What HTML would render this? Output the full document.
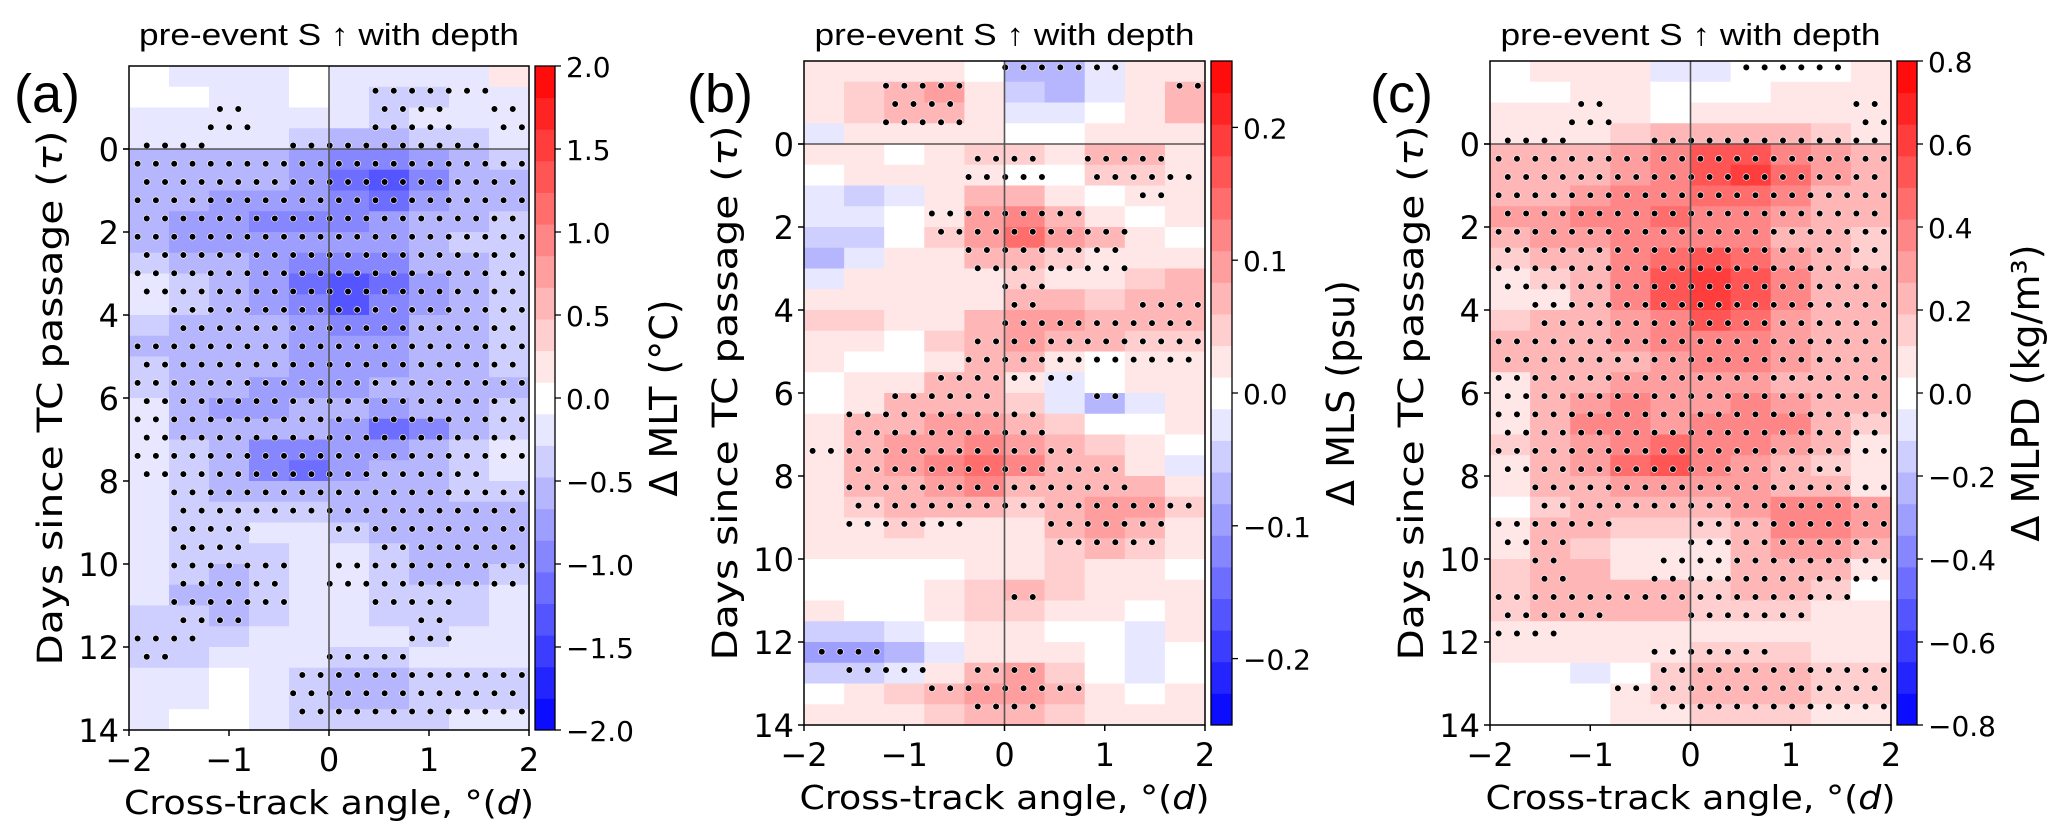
<!DOCTYPE html>
<html><head><meta charset="utf-8">
<style>
html,body{margin:0;padding:0;background:#fff;}
svg{display:block;}
text{font-family:"DejaVu Sans","Liberation Sans",sans-serif;fill:#000;}
.ttl{font-family:"Liberation Sans",sans-serif;}
</style></head>
<body>
<svg id="fig" width="2067" height="838" viewBox="0 0 2067 838" xmlns="http://www.w3.org/2000/svg"></svg>
<script>
// ---- data: rows are day bins of 0.5 from -2 to 14, cols are 0.4° bins from -2 to 2
const xTicks = [-2, -1, 0, 1, 2];
const yTicks = [0, 2, 4, 6, 8, 10, 12, 14];
const aCbTicks = [2.0, 1.5, 1.0, 0.5, 0.0, -0.5, -1.0, -1.5, -2.0];
const bCbTicks = [0.2, 0.1, 0.0, -0.1, -0.2];
const cCbTicks = [0.8, 0.6, 0.4, 0.2, 0.0, -0.2, -0.4, -0.6, -0.8];
const aCbLabels = ["2.0","1.5","1.0","0.5","0.0","\u22120.5","\u22121.0","\u22121.5","\u22122.0"];
const bCbLabels = ["0.2","0.1","0.0","\u22120.1","\u22120.2"];
const cCbLabels = ["0.8","0.6","0.4","0.2","0.0","\u22120.2","\u22120.4","\u22120.6","\u22120.8"];

const aVals = [
[0,-0.1,-0.2,-0.1,0,-0.2,-0.2,-0.2,-0.2,0.1],
[0,0,-0.2,-0.2,0,-0.2,-0.4,-0.3,-0.2,-0.2],
[-0.1,-0.1,-0.2,-0.2,-0.1,-0.2,-0.3,-0.2,-0.2,-0.2],
[-0.2,-0.2,-0.2,-0.2,-0.4,-0.6,-0.5,-0.4,-0.3,-0.2],
[-0.5,-0.5,-0.5,-0.6,-0.8,-1.0,-1.0,-0.8,-0.5,-0.4],
[-0.5,-0.6,-0.6,-0.6,-0.8,-1.1,-1.4,-1.0,-0.6,-0.5],
[-0.5,-0.6,-0.7,-0.8,-0.8,-1.0,-1.1,-0.8,-0.6,-0.6],
[-0.6,-0.7,-0.8,-0.9,-0.9,-0.9,-0.8,-0.6,-0.5,-0.4],
[-0.6,-0.7,-0.7,-0.8,-0.8,-0.8,-0.7,-0.6,-0.4,-0.4],
[-0.4,-0.5,-0.6,-0.8,-0.9,-1.0,-0.9,-0.6,-0.5,-0.4],
[-0.2,-0.4,-0.6,-0.8,-1.1,-1.3,-1.1,-0.7,-0.5,-0.4],
[-0.2,-0.3,-0.6,-0.8,-1.0,-1.3,-1.0,-0.7,-0.5,-0.4],
[-0.4,-0.5,-0.6,-0.6,-0.8,-1.0,-0.9,-0.6,-0.5,-0.4],
[-0.5,-0.5,-0.5,-0.6,-0.7,-0.8,-0.8,-0.6,-0.5,-0.4],
[-0.4,-0.5,-0.5,-0.6,-0.7,-0.8,-0.8,-0.6,-0.5,-0.4],
[-0.3,-0.5,-0.6,-0.7,-0.7,-0.7,-0.6,-0.6,-0.5,-0.5],
[-0.2,-0.5,-0.7,-0.7,-0.6,-0.6,-0.7,-0.6,-0.5,-0.4],
[-0.2,-0.5,-0.6,-0.5,-0.6,-0.8,-1.1,-0.9,-0.5,-0.3],
[-0.2,-0.4,-0.6,-0.9,-0.9,-0.8,-0.8,-0.6,-0.4,-0.2],
[-0.2,-0.3,-0.6,-1.0,-1.2,-0.8,-0.6,-0.5,-0.3,-0.2],
[-0.2,-0.3,-0.5,-0.6,-0.6,-0.6,-0.6,-0.5,-0.4,-0.3],
[-0.1,-0.3,-0.4,-0.4,-0.4,-0.5,-0.6,-0.6,-0.6,-0.5],
[-0.1,-0.4,-0.4,-0.2,-0.2,-0.3,-0.5,-0.6,-0.6,-0.6],
[-0.1,-0.4,-0.4,-0.3,-0.2,-0.2,-0.4,-0.6,-0.6,-0.5],
[-0.2,-0.4,-0.5,-0.4,-0.2,-0.2,-0.3,-0.5,-0.5,-0.4],
[-0.2,-0.5,-0.6,-0.4,-0.2,-0.2,-0.4,-0.4,-0.4,-0.2],
[-0.3,-0.4,-0.5,-0.3,-0.2,-0.2,-0.3,-0.4,-0.3,-0.2],
[-0.3,-0.4,-0.3,-0.2,-0.2,-0.2,-0.2,-0.3,-0.2,-0.1],
[-0.3,-0.3,-0.2,-0.1,-0.2,-0.3,-0.3,-0.2,-0.1,-0.1],
[-0.2,-0.1,0,-0.1,-0.3,-0.5,-0.5,-0.4,-0.4,-0.4],
[-0.2,-0.1,0,-0.1,-0.3,-0.5,-0.5,-0.4,-0.4,-0.4],
[-0.1,0,0.05,-0.1,-0.3,-0.4,-0.4,-0.3,-0.2,-0.2]
];
const aSig = [
"0000000000","0000001110","0010001101","1100111110",
"1111111111","1111111111","1111111111","1111111111",
"1111111111","1111111111","1111111111","0111111111",
"0111111111","1111111111","1111111111","1111111111",
"1111111111","1111111111","1111111111","1111111110",
"0111111111","0111111111","0110011111","0110001111",
"0111011111","0111001100","0110000100","1100000100",
"1000011000","0000111111","0000111111","0000111111"
];

const bVals = [
[0.02,0.03,0.03,0.03,0,-0.08,-0.06,-0.02,0.02,0.03],
[0.03,0.04,0.08,0.1,0.02,-0.05,-0.08,-0.02,0.03,0.06],
[0.02,0.04,0.08,0.08,0.02,-0.02,-0.03,0,0.03,0.06],
[-0.02,0.02,0.03,0.03,0.02,0,0,0.02,0.02,0.03],
[0.02,0.02,0,0.03,0.05,0.05,0.02,0.06,0.08,0.02],
[0,0.02,0.02,0.03,0.03,0,0.01,0.04,0.05,0.02],
[-0.02,-0.04,-0.02,0.03,0.08,0.06,0.02,0,0.02,0.02],
[-0.03,-0.03,0,0.03,0.1,0.12,0.08,0.03,0.01,0.02],
[-0.05,-0.04,0.01,0.04,0.1,0.14,0.1,0.06,0.02,0.01],
[-0.06,-0.03,0.02,0.03,0.06,0.08,0.05,0.03,0.02,0.03],
[-0.02,0.02,0.02,0.02,0.03,0.04,0.02,0.02,0.04,0.06],
[0.03,0.02,0.02,0.03,0.03,0.06,0.06,0.05,0.06,0.06],
[0.05,0.04,0.02,0.03,0.06,0.1,0.1,0.08,0.06,0.06],
[0.02,0.02,0,0.04,0.06,0.1,0.08,0.06,0.04,0.04],
[0.02,0,0,0.02,0.06,0.06,0.03,0.01,0.02,0.03],
[0,0.02,0.03,0.06,0.06,0.03,-0.02,0,0.02,0.03],
[0,0.03,0.06,0.08,0.08,0.04,-0.02,-0.06,-0.02,0.03],
[0.03,0.06,0.08,0.1,0.1,0.08,0.04,0,0,0.03],
[0.03,0.06,0.1,0.1,0.12,0.1,0.06,0.04,0.03,0],
[0.03,0.06,0.1,0.12,0.15,0.12,0.08,0.06,0.03,-0.02],
[0.03,0.06,0.08,0.1,0.12,0.08,0.06,0.08,0.06,0.02],
[0.02,0.04,0.08,0.08,0.06,0.04,0.06,0.1,0.1,0.04],
[0.02,0.03,0.04,0.03,0.02,0.02,0.06,0.1,0.08,0.03],
[0.02,0.02,0.02,0.02,0.02,0.02,0.04,0.06,0.04,0.02],
[0,0,0,0,0.02,0.03,0.04,0.03,0.02,0],
[0,0,0,0.02,0.05,0.06,0.04,0.02,0.02,0.02],
[0.02,0,0,0.02,0.04,0.04,0.02,0.02,0,0.02],
[-0.05,-0.04,-0.02,0,0.02,0.02,0,0,-0.03,0.02],
[-0.1,-0.1,-0.06,-0.02,0.02,0.03,0.02,0,-0.03,0],
[-0.04,-0.05,-0.02,0.02,0.08,0.1,0.05,0,-0.02,0],
[0,0.02,0.04,0.06,0.1,0.1,0.06,0.02,0,0.02],
[0.02,0.02,0.03,0.05,0.08,0.06,0.04,0.02,0.02,0.02]
];
const bSig = [
"0000011100","0011000001","0011000000","0000000000",
"0000110110","0000110111","0000000010","0001111000",
"0001111100","0000111100","0000010000","0000010011",
"0000011111","0000111111","0000111111","0001111000",
"0011100100","0111110000","1111111000","0111111100",
"0111111100","0111111111","0111001110","0000001110",
"0000000000","0000010000","0000000000","0000000000",
"1100000000","0110110000","0001111000","0000110000"
];

const cVals = [
[0,0.05,0.05,0.05,-0.05,-0.05,0,0,0,0.05],
[0,0,0.05,0.05,0,0,0.03,0.05,0.08,0.08],
[0.05,0.05,0.05,0.08,0,0.05,0.1,0.1,0.1,0.1],
[0.1,0.1,0.1,0.15,0.2,0.25,0.25,0.2,0.15,0.1],
[0.25,0.25,0.25,0.3,0.4,0.5,0.55,0.4,0.3,0.2],
[0.2,0.25,0.25,0.3,0.35,0.5,0.6,0.45,0.3,0.2],
[0.25,0.25,0.3,0.35,0.4,0.45,0.45,0.35,0.25,0.25],
[0.3,0.3,0.35,0.4,0.45,0.4,0.35,0.3,0.2,0.2],
[0.25,0.3,0.3,0.35,0.4,0.4,0.35,0.25,0.2,0.15],
[0.15,0.2,0.25,0.35,0.45,0.5,0.45,0.3,0.2,0.15],
[0.05,0.15,0.25,0.35,0.5,0.6,0.55,0.35,0.25,0.2],
[0.05,0.1,0.25,0.35,0.5,0.6,0.5,0.35,0.25,0.2],
[0.15,0.2,0.25,0.3,0.4,0.5,0.45,0.3,0.25,0.2],
[0.2,0.2,0.25,0.3,0.35,0.4,0.4,0.3,0.25,0.2],
[0.2,0.2,0.25,0.25,0.3,0.35,0.35,0.3,0.25,0.2],
[0.1,0.2,0.25,0.3,0.3,0.3,0.3,0.25,0.2,0.2],
[0.1,0.2,0.3,0.35,0.3,0.3,0.35,0.3,0.2,0.2],
[0.1,0.25,0.35,0.35,0.3,0.35,0.4,0.35,0.2,0.15],
[0.15,0.25,0.3,0.4,0.45,0.4,0.35,0.3,0.2,0.05],
[0.1,0.2,0.3,0.45,0.5,0.35,0.3,0.25,0.15,0.05],
[0.05,0.2,0.25,0.3,0.3,0.3,0.3,0.25,0.2,0.1],
[0,0.15,0.25,0.25,0.25,0.25,0.3,0.35,0.35,0.3],
[0.05,0.2,0.2,0.15,0.15,0.15,0.25,0.35,0.35,0.3],
[0.1,0.2,0.15,0.1,0.1,0.1,0.25,0.3,0.3,0.2],
[0.15,0.2,0.2,0.1,0.1,0.1,0.2,0.25,0.2,0.05],
[0.15,0.25,0.25,0.2,0.2,0.15,0.2,0.2,0.15,0],
[0.15,0.2,0.2,0.2,0.2,0.15,0.15,0.15,0.1,0.05],
[0.05,0.1,0.1,0.1,0.1,0.1,0.1,0.1,0.05,0.05],
[0.05,0.05,0.05,0.05,0.1,0.15,0.15,0.15,0.1,0.1],
[0,0,-0.05,0,0.15,0.25,0.25,0.2,0.15,0.15],
[0,0,0,0.05,0.15,0.25,0.2,0.2,0.15,0.15],
[0,0,0,0.05,0.1,0.15,0.15,0.15,0.1,0.1]
];
const cSig = [
"0000001110","0000000000","0010000001","1100111111",
"1111111111","1111111111","1111111111","1111111111",
"1111111111","1111111111","1111111111","0111111111",
"0111111111","1111111111","1111111111","1111111111",
"1111111111","1111111111","1111111111","1111111110",
"0111111111","0111111111","1110011111","1100011111",
"0100111111","1111111110","1110011100","1100000000",
"0000111000","0000111111","0001111111","0000111111"
];

// ---- rendering
const NS = "http://www.w3.org/2000/svg";
const svg = document.getElementById('fig');
function mk(tag, attrs, parent) {
  const e = document.createElementNS(NS, tag);
  for (const k in attrs) e.setAttribute(k, attrs[k]);
  (parent || svg).appendChild(e);
  return e;
}
function bwr(t) {
  t = Math.max(0, Math.min(1, t));
  let r, g, b;
  if (t < 0.5) { r = g = Math.round(2 * t * 255); b = 255; }
  else { r = 255; g = b = Math.round((2 - 2 * t) * 255); }
  return `rgb(${r},${g},${b})`;
}
const NLEV = 21;
function levelColor(v, vmax) {
  const step = 2 * vmax / NLEV;
  let i = Math.floor((v + vmax) / step);
  i = Math.max(0, Math.min(NLEV - 1, i));
  return bwr((i + 0.5) / NLEV);
}

function drawPanel(p) {
  const g = mk('g', {});
  
  
  const xs = v => p.x0 + (v + 2) / 4 * p.w;
  const ys = d => p.y0 + (d + 2) / 16 * p.h;

  const cells = mk('g', {}, g);
  
  
  p.vals.forEach((row, r) => {
    row.forEach((v, c) => {
      const x1 = xs(-2 + 0.4 * c), x2 = xs(-2 + 0.4 * (c + 1));
      const y1 = ys(-2 + 0.5 * r), y2 = ys(-2 + 0.5 * (r + 1));
      const rc = mk('rect', {x: x1, y: y1, width: x2 - x1 + 0.6, height: y2 - y1 + 0.6, fill: levelColor(v, p.vmax)}, cells);
      
      
    });
  });

  const dots = mk('g', {}, g);
  
  
  for (let k = -5; k <= 30; k++) {
    const day = 0.355 + 0.44 * k;
    if (day < -2 || day > 14) continue;
    const off = (k % 2 === 0) ? 0 : -0.0915;
    for (let j = -1; j < 24; j++) {
      const x = -1.914 + off + 0.183 * j;
      if (x < -1.985 || x > 1.985) continue;
      const r = Math.floor((day + 2) / 0.5), c = Math.floor((x + 2) / 0.4);
      if (r < 0 || r > 31 || c < 0 || c > 9) continue;
      if (p.sig[r][c] !== '1') continue;
      const d = mk('circle', {cx: xs(x), cy: ys(day), r: 3.3, fill: '#000', stroke: '#fff', 'stroke-width': 0.6}, dots);
      
      
    }
  }

  const zl = mk('line', {x1: xs(0), x2: xs(0), y1: p.y0, y2: p.y0 + p.h, stroke: '#555', 'stroke-width': 1.6}, g);
  
  
  const hl = mk('line', {x1: p.x0 - 6, x2: p.x0 + p.w, y1: ys(0), y2: ys(0), stroke: '#555', 'stroke-width': 1.6}, g);
  
  

  const fr = mk('rect', {x: p.x0, y: p.y0, width: p.w, height: p.h, fill: 'none', stroke: '#000', 'stroke-width': 1.5}, g);
  
  

  xTicks.forEach(v => {
    const t = mk('line', {x1: xs(v), x2: xs(v), y1: p.y0 + p.h, y2: p.y0 + p.h + 6, stroke: '#000', 'stroke-width': 1.5}, g);
    
    
    const lb = mk('text', {x: xs(v), y: p.y0 + p.h + 41, 'text-anchor': 'middle', 'font-size': 32}, g);
    lb.textContent = v < 0 ? '\u2212' + Math.abs(v) : String(v);
    
    
  });
  yTicks.forEach(v => {
    const t = mk('line', {x1: p.x0 - 6, x2: p.x0, y1: ys(v), y2: ys(v), stroke: '#000', 'stroke-width': 1.5}, g);
    
    
    const lb = mk('text', {x: p.x0 - 10, y: ys(v) + 12, 'text-anchor': 'end', 'font-size': 32}, g);
    lb.textContent = String(v);
    
    
  });

  const xt = mk('text', {x: p.x0 + p.w / 2, y: p.y0 + p.h + 84, 'text-anchor': 'middle', 'font-size': 33, textLength: 410, lengthAdjust: 'spacingAndGlyphs'}, g);
  xt.innerHTML = 'Cross-track angle, °(<tspan font-style="italic">d</tspan>)';
  
  
  const ycx = p.x0 - 67, ycy = p.y0 + 332;
  const yt = mk('text', {x: ycx, y: ycy, 'text-anchor': 'middle', 'font-size': 35, transform: `rotate(-90 ${ycx} ${ycy})`, textLength: 535, lengthAdjust: 'spacingAndGlyphs'}, g);
  yt.innerHTML = 'Days since TC passage (<tspan font-style="italic">τ</tspan>)';
  
  

  const tt = mk('text', {x: p.x0 + p.w / 2, y: 45, 'text-anchor': 'middle', 'font-size': 31, 'class': 'ttl', textLength: 380, lengthAdjust: 'spacingAndGlyphs'}, g);
  tt.textContent = 'pre-event S \u2191 with depth';
  
  
  const pl = mk('text', {x: p.letterX, y: 112, 'font-size': 54, 'class': 'ttl'}, g);
  pl.textContent = p.letter;
  
  

  const cb = mk('g', {}, g);
  
  
  const segH = p.h / NLEV;
  for (let i = 0; i < NLEV; i++) {
    const s = mk('rect', {x: p.cbx, y: p.y0 + p.h - (i + 1) * segH, width: p.cbw, height: segH + 0.5, fill: bwr((i + 0.5) / NLEV)}, cb);
    
    
  }
  const cf = mk('rect', {x: p.cbx, y: p.y0, width: p.cbw, height: p.h, fill: 'none', stroke: '#000', 'stroke-width': 1.3}, cb);
  
  
  const cys = v => p.y0 + (p.vmax - v) / (2 * p.vmax) * p.h;
  p.cbTicks.forEach((v, i) => {
    const t = mk('line', {x1: p.cbx + p.cbw, x2: p.cbx + p.cbw + 6, y1: cys(v), y2: cys(v), stroke: '#000', 'stroke-width': 1.3}, cb);
    
    
    const lb = mk('text', {x: p.cbx + p.cbw + 11, y: cys(v) + 11, 'font-size': 28}, cb);
    lb.textContent = p.cbLabels[i];
    
    
  });
  const lx = p.cbx + p.cbw + 122, ly = p.y0 + 332;
  const cl = mk('text', {x: lx, y: ly, 'text-anchor': 'middle', 'font-size': 38, transform: `rotate(-90 ${lx} ${ly})`}, cb);
  cl.textContent = p.cbTitle;
  
  
}

drawPanel({key: 'mlt', letter: '(a)', letterX: 14, x0: 129, w: 400, y0: 66, h: 664, cbx: 535, cbw: 20, vmax: 2.0,
  vals: aVals, sig: aSig, cbTicks: aCbTicks, cbLabels: aCbLabels, cbTitle: 'Δ MLT (°C)'});
drawPanel({key: 'mls', letter: '(b)', letterX: 687, x0: 804, w: 401, y0: 61, h: 664, cbx: 1211, cbw: 21, vmax: 0.25,
  vals: bVals, sig: bSig, cbTicks: bCbTicks, cbLabels: bCbLabels, cbTitle: 'Δ MLS (psu)'});
drawPanel({key: 'mlpd', letter: '(c)', letterX: 1370, x0: 1490, w: 401, y0: 61, h: 664, cbx: 1897, cbw: 20, vmax: 0.8,
  vals: cVals, sig: cSig, cbTicks: cCbTicks, cbLabels: cCbLabels, cbTitle: 'Δ MLPD (kg/m³)'});
</script>
</body></html>
